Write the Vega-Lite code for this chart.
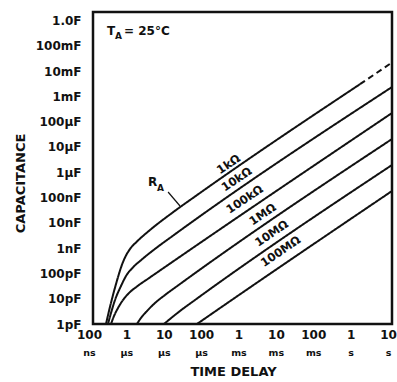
{
  "$schema": "https://vega.github.io/schema/vega-lite/v6.json",
  "width": 299,
  "height": 312,
  "autosize": "none",
  "padding": {"left": 93, "top": 12, "right": 5, "bottom": 58},
  "background": "white",
  "config": {
    "view": {"stroke": "#111", "strokeWidth": 2.5},
    "font": "DejaVu Sans",
    "axis": {
      "domain": false, "ticks": false, "grid": false,
      "labelFont": "DejaVu Sans", "labelFontWeight": "bold", "labelColor": "#111",
      "titleFont": "DejaVu Sans", "titleFontWeight": "bold", "titleColor": "#111",
      "labelOverlap": false
    }
  },
  "resolve": {"axis": {"x": "independent"}},
  "layer": [
    {
      "data": {"values": [
        {"R": "1k", "part": "measured", "t": 2.23e-7, "c": 1e-12},
        {"R": "1k", "part": "measured", "t": 2.68e-7, "c": 3.27e-12},
        {"R": "1k", "part": "measured", "t": 3.43e-7, "c": 1.40e-11},
        {"R": "1k", "part": "measured", "t": 4.39e-7, "c": 5.24e-11},
        {"R": "1k", "part": "measured", "t": 5.28e-7, "c": 1.30e-10},
        {"R": "1k", "part": "measured", "t": 6.35e-7, "c": 2.82e-10},
        {"R": "1k", "part": "measured", "t": 7.64e-7, "c": 5.10e-10},
        {"R": "1k", "part": "measured", "t": 9.77e-7, "c": 9.22e-10},
        {"R": "1k", "part": "measured", "t": 1.50e-6, "c": 1.82e-9},
        {"R": "1k", "part": "measured", "t": 3.35e-6, "c": 5.19e-9},
        {"R": "1k", "part": "measured", "t": 1.30e-5, "c": 2.44e-8},
        {"R": "1k", "part": "measured", "t": 7.29e-5, "c": 1.51e-7},
        {"R": "1k", "part": "measured", "t": 1.39, "c": 3.01e-3},
        {"R": "1k", "part": "extrapolated", "t": 1.39, "c": 3.01e-3},
        {"R": "1k", "part": "extrapolated", "t": 10, "c": 2.17e-2},
        {"R": "10k", "part": "measured", "t": 2.52e-7, "c": 1e-12},
        {"R": "10k", "part": "measured", "t": 3.03e-7, "c": 2.72e-12},
        {"R": "10k", "part": "measured", "t": 3.88e-7, "c": 8.88e-12},
        {"R": "10k", "part": "measured", "t": 5.61e-7, "c": 3.18e-11},
        {"R": "10k", "part": "measured", "t": 7.64e-7, "c": 7.89e-11},
        {"R": "10k", "part": "measured", "t": 1.18e-6, "c": 1.74e-10},
        {"R": "10k", "part": "measured", "t": 2.05e-6, "c": 3.61e-10},
        {"R": "10k", "part": "measured", "t": 4.56e-6, "c": 9.30e-10},
        {"R": "10k", "part": "measured", "t": 1.30e-5, "c": 2.90e-9},
        {"R": "10k", "part": "measured", "t": 10, "c": 2.33e-3},
        {"R": "100k", "part": "measured", "t": 3.03e-7, "c": 1e-12},
        {"R": "100k", "part": "measured", "t": 3.65e-7, "c": 2.07e-12},
        {"R": "100k", "part": "measured", "t": 4.67e-7, "c": 4.29e-12},
        {"R": "100k", "part": "measured", "t": 6.35e-7, "c": 8.88e-12},
        {"R": "100k", "part": "measured", "t": 9.19e-7, "c": 1.68e-11},
        {"R": "100k", "part": "measured", "t": 1.50e-6, "c": 3.04e-11},
        {"R": "100k", "part": "measured", "t": 3.35e-6, "c": 6.95e-11},
        {"R": "100k", "part": "measured", "t": 1.30e-5, "c": 2.77e-10},
        {"R": "100k", "part": "measured", "t": 10, "c": 2.19e-4},
        {"R": "1M", "part": "measured", "t": 1.50e-6, "c": 1e-12},
        {"R": "1M", "part": "measured", "t": 1.92e-6, "c": 1.73e-12},
        {"R": "1M", "part": "measured", "t": 2.79e-6, "c": 3.27e-12},
        {"R": "1M", "part": "measured", "t": 4.56e-6, "c": 6.76e-12},
        {"R": "1M", "part": "measured", "t": 8.44e-6, "c": 1.40e-11},
        {"R": "1M", "part": "measured", "t": 2.13e-5, "c": 3.81e-11},
        {"R": "1M", "part": "measured", "t": 10, "c": 2.05e-5},
        {"R": "10M", "part": "measured", "t": 7.94e-6, "c": 1e-12},
        {"R": "10M", "part": "measured", "t": 1.15e-5, "c": 1.58e-12},
        {"R": "10M", "part": "measured", "t": 2.13e-5, "c": 3.27e-12},
        {"R": "10M", "part": "measured", "t": 5.36e-5, "c": 8.88e-12},
        {"R": "10M", "part": "measured", "t": 10, "c": 1.93e-6},
        {"R": "100M", "part": "measured", "t": 6.06e-5, "c": 1e-12},
        {"R": "100M", "part": "measured", "t": 1.35e-4, "c": 2.27e-12},
        {"R": "100M", "part": "measured", "t": 10, "c": 1.81e-7}
      ]},
      "mark": {"type": "line", "color": "#111", "strokeWidth": 2, "interpolate": "monotone", "clip": true},
      "encoding": {
        "x": {
          "field": "t", "type": "quantitative",
          "scale": {"type": "log", "domain": [1e-7, 10], "nice": false},
          "axis": {
            "orient": "bottom",
            "values": [1e-7, 1e-6, 1e-5, 0.0001, 0.001, 0.01, 0.1, 1, 10],
            "labelExpr": "['100','1','10','100','1','10','100','1','10'][round(log(datum.value)/LN10)+7]",
            "labelFontSize": 12, "labelPadding": 5, "labelOffset": -4, "labelFlush": false,
            "title": "TIME DELAY", "titleFontSize": 13, "titleX": 140, "titleY": 47,
            "titleBaseline": "middle", "titleAlign": "center"
          }
        },
        "y": {
          "field": "c", "type": "quantitative",
          "scale": {"type": "log", "domain": [1e-12, 2.15], "nice": false},
          "axis": {
            "values": [1e-12, 1e-11, 1e-10, 1e-9, 1e-8, 1e-7, 1e-6, 1e-5, 0.0001, 0.001, 0.01, 0.1, 1],
            "labelExpr": "['1pF','10pF','100pF','1nF','10nF','100nF','1µF','10µF','100µF','1mF','10mF','100mF','1.0F'][round(log(datum.value)/LN10)+12]",
            "labelFontSize": 12, "labelPadding": 12,
            "title": "CAPACITANCE", "titleFontSize": 13, "titleX": -73, "titleY": 171,
            "titleAngle": 270, "titleAlign": "center", "titleBaseline": "middle"
          }
        },
        "detail": {"field": "R"},
        "strokeDash": {
          "field": "part", "type": "nominal",
          "scale": {"domain": ["measured", "extrapolated"], "range": [[1, 0], [6, 4]]},
          "legend": null
        }
      }
    },
    {
      "data": {"values": [{"t": 1.02e-5, "c": 1.65e-7, "t2": 2.13e-5, "c2": 4.61e-8}]},
      "mark": {"type": "rule", "color": "#111", "strokeWidth": 1.2},
      "encoding": {
        "x": {
          "field": "t", "type": "quantitative",
          "scale": {"type": "log", "domain": [1e-7, 10], "nice": false},
          "axis": {
            "orient": "bottom",
            "values": [1e-7, 1e-6, 1e-5, 0.0001, 0.001, 0.01, 0.1, 1, 10],
            "labelExpr": "['ns','µs','µs','µs','ms','ms','ms','s','s'][round(log(datum.value)/LN10)+7]",
            "labelFontSize": 9.5, "labelPadding": 23, "labelOffset": -4, "labelFlush": false,
            "title": null
          }
        },
        "y": {"field": "c", "type": "quantitative", "scale": {"type": "log", "domain": [1e-12, 2.15], "nice": false}},
        "x2": {"field": "t2"},
        "y2": {"field": "c2"}
      }
    },
    {
      "data": {"values": [
        {"label": "T", "t": 2.37e-7, "c": 0.265},
        {"label": "= 25°C", "t": 6.75e-7, "c": 0.265},
        {"label": "R", "t": 2.96e-6, "c": 2.85e-7}
      ]},
      "mark": {"type": "text", "align": "left", "baseline": "alphabetic", "fontSize": 12, "fontWeight": "bold", "color": "#111"},
      "encoding": {
        "x": {"field": "t", "type": "quantitative", "scale": {"type": "log", "domain": [1e-7, 10], "nice": false}, "axis": null},
        "y": {"field": "c", "type": "quantitative", "scale": {"type": "log", "domain": [1e-12, 2.15], "nice": false}},
        "text": {"field": "label"}
      }
    },
    {
      "data": {"values": [
        {"label": "A", "t": 3.88e-7, "c": 0.184},
        {"label": "A", "t": 5.16e-6, "c": 1.81e-7}
      ]},
      "mark": {"type": "text", "align": "left", "baseline": "alphabetic", "fontSize": 9, "fontWeight": "bold", "color": "#111"},
      "encoding": {
        "x": {"field": "t", "type": "quantitative", "scale": {"type": "log", "domain": [1e-7, 10], "nice": false}, "axis": null},
        "y": {"field": "c", "type": "quantitative", "scale": {"type": "log", "domain": [1e-12, 2.15], "nice": false}},
        "text": {"field": "label"}
      }
    },
    {
      "data": {"values": [
        {"label": "1kΩ", "t": 4.35e-4, "c": 1.93e-6},
        {"label": "10kΩ", "t": 7.13e-4, "c": 4.92e-7},
        {"label": "100kΩ", "t": 1.167e-3, "c": 7.96e-8},
        {"label": "1MΩ", "t": 3.54e-3, "c": 2.03e-8},
        {"label": "10MΩ", "t": 6.16e-3, "c": 3.61e-9},
        {"label": "100MΩ", "t": 1.072e-2, "c": 7.01e-10}
      ]},
      "mark": {"type": "text", "align": "center", "baseline": "middle", "fontSize": 11.5, "fontWeight": "bold", "angle": -34, "color": "#111"},
      "encoding": {
        "x": {"field": "t", "type": "quantitative", "scale": {"type": "log", "domain": [1e-7, 10], "nice": false}, "axis": null},
        "y": {"field": "c", "type": "quantitative", "scale": {"type": "log", "domain": [1e-12, 2.15], "nice": false}},
        "text": {"field": "label"}
      }
    }
  ]
}
